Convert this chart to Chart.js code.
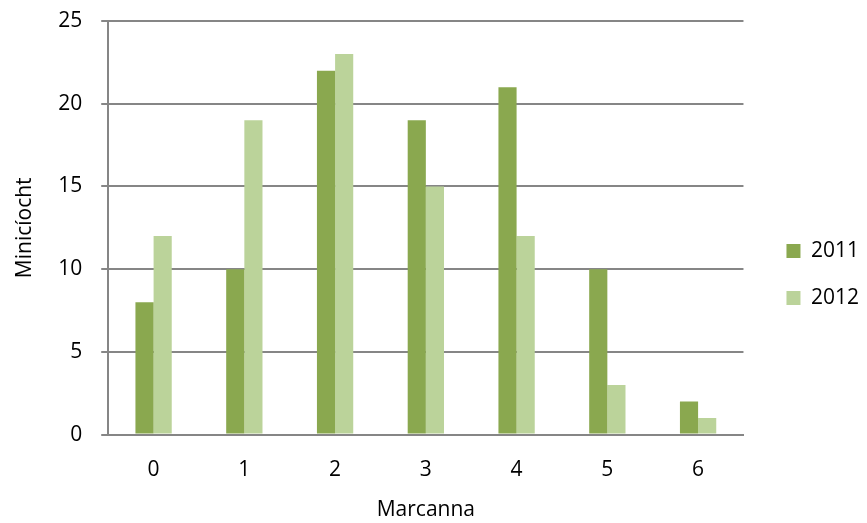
<!DOCTYPE html>
<html>
<head>
<meta charset="utf-8">
<script src="https://cdn.jsdelivr.net/npm/chart.js@4/dist/chart.umd.min.js"></script>
<style>
  html, body { margin: 0; padding: 0; background: #fff; }
  #wrap { width: 867px; height: 523px; }
</style>
</head>
<body>
<div id="wrap"><canvas id="marcChart" width="867" height="523"></canvas></div>
<script>
const marks = ['0', '1', '2', '3', '4', '5', '6'];
const counts2011 = [8, 10, 22, 19, 21, 10, 2];
const counts2012 = [12, 19, 23, 15, 12, 3, 1];

const FONT = '"Open Sans", "Noto Sans", sans-serif';
const GRID = '#868686';

var ctx = document.getElementById('marcChart');

// push the legend a bit further from the plot than Chart.js would put it
const legendShift = {
    id: 'legendShift',
    afterLayout(chart) {
        const lg = chart.legend;
        if (!lg) return;
        lg.left += 17;
        lg.right += 17;
        lg.top += 13;
        lg.bottom += 13;
    }
};

new Chart(ctx, {
    type: 'bar',
    data: {
        labels: marks,
        datasets: [
            { label: '2011', data: counts2011, backgroundColor: '#8aa84f' },
            { label: '2012', data: counts2012, backgroundColor: '#bbd39a' }
        ]
    },
    options: {
        responsive: false,
        animation: false,
        devicePixelRatio: 1,
        categoryPercentage: 0.4,
        barPercentage: 1.0,
        layout: { padding: { top: 0, right: 15, left: 12, bottom: 0 } },
        plugins: {
            tooltip: { enabled: false },
            legend: {
                position: 'right',
                align: 'center',
                labels: {
                    boxWidth: 14,
                    boxHeight: 14,
                    padding: 26,
                    color: '#000',
                    font: { family: FONT, size: 21 }
                }
            }
        },
        scales: {
            x: {
                grid: { display: false },
                border: { display: true, color: GRID, width: 2 },
                ticks: { color: '#000', font: { family: FONT, size: 21 }, padding: 15 },
                title: {
                    display: true,
                    text: 'Marcanna',
                    color: '#000',
                    font: { family: FONT, size: 21 },
                    padding: { top: 0, bottom: 0 }
                }
            },
            y: {
                min: 0,
                max: 25,
                ticks: { stepSize: 5, color: '#000', font: { family: FONT, size: 21 }, padding: 19 },
                grid: { color: GRID, lineWidth: 2, tickLength: 7 },
                border: { display: true, color: GRID, width: 2 },
                title: {
                    display: true,
                    text: 'Minicíocht',
                    color: '#000',
                    font: { family: FONT, size: 21 },
                    padding: { top: 0, bottom: 2 }
                },
                afterFit(scale) {
                    // keep the top of the plot close to the canvas edge
                    scale.paddingTop = 21;
                    scale.paddingBottom = 13;
                }
            }
        }
    },
    plugins: [legendShift]
});
</script>
</body>
</html>
